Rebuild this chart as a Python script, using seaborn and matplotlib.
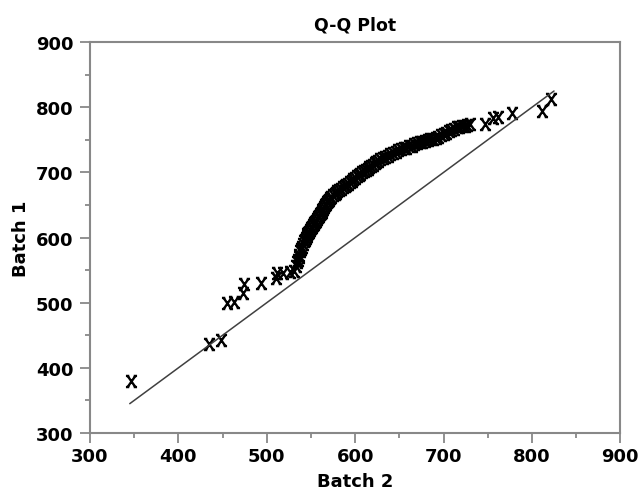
import matplotlib
matplotlib.use("Agg")
import matplotlib.pyplot as plt
from matplotlib.path import Path
from matplotlib.ticker import MultipleLocator
import numpy as np
import pandas as pd
import seaborn as sns

# quantiles (batch 2 on x, batch 1 on y)
batch2_q = [346, 435, 448, 455, 463, 473, 474, 494, 510, 512, 518, 526, 531,
            533, 534, 535, 536, 537, 538, 539, 540, 541, 542, 543, 544, 545,
            546, 547, 548, 549, 550, 551, 552, 553, 554, 555, 556, 557, 558,
            559, 560, 561, 562, 563, 564, 565, 566, 567, 568, 569, 570, 572,
            573, 575, 577, 578, 580, 582, 584, 586, 588, 590, 592, 594, 596,
            598, 600, 602, 604, 606, 608, 610, 612, 614, 616, 618, 620, 622,
            624, 626, 628, 631, 634, 637, 640, 643, 646, 649, 652, 655, 658,
            661, 664, 667, 670, 673, 676, 679, 682, 685, 688, 691, 694, 697,
            700, 703, 706, 709, 712, 715, 718, 721, 724, 727, 730,
            747, 756, 762, 777, 811, 822]
batch1_q = [380, 436, 443, 499, 501, 515, 529, 530, 538, 545, 546, 547, 549,
            556, 562, 566, 570, 574, 579, 583, 586, 590, 594, 597, 600, 603,
            605, 607, 609, 612, 614, 616, 619, 621, 622, 624, 626, 629, 631,
            633, 636, 638, 640, 642, 644, 647, 650, 652, 654, 656, 658, 661,
            663, 665, 667, 669, 671, 673, 675, 677, 679, 681, 683, 685, 687,
            690, 692, 694, 696, 698, 700, 702, 704, 706, 708, 710, 712, 714,
            716, 718, 720, 722, 724, 726, 728, 730, 732, 734, 736, 737, 738,
            740, 741, 743, 745, 746, 747, 749, 750, 751, 752, 753, 755, 757,
            759, 761, 763, 765, 767, 769, 770, 771, 772, 773, 774,
            775, 783, 785, 791, 795, 812]

# reference line y = x
ref_x = [345, 825]

df = pd.DataFrame({"Batch 2": batch2_q, "Batch 1": batch1_q})
ref = pd.DataFrame({"x": ref_x, "y": ref_x})

# letter-like X marker: two strokes plus little serifs, taller than wide
verts = [(-0.7, -1), (0.7, 1), (-0.7, 1), (0.7, -1),
         (-1.0, 1), (-0.4, 1), (0.4, 1), (1.0, 1),
         (-1.0, -1), (-0.4, -1), (0.4, -1), (1.0, -1)]
codes = [Path.MOVETO, Path.LINETO] * 6
x_marker = Path(verts, codes)

sns.set_style("ticks")
plt.rcParams["font.family"] = ["DejaVu Sans"]
plt.rcParams["text.color"] = "black"
plt.rcParams["axes.labelcolor"] = "black"
plt.rcParams["xtick.labelcolor"] = "black"
plt.rcParams["ytick.labelcolor"] = "black"

fig = plt.figure(figsize=(6.4, 5.02), dpi=100)
ax = fig.add_axes([0.1406, 0.1355, 0.8286, 0.7785])

sns.lineplot(data=ref, x="x", y="y", color="#404040", linewidth=1.1, ax=ax)
sns.scatterplot(data=df, x="Batch 2", y="Batch 1", marker=x_marker, s=64,
                color="black", edgecolor="black", linewidth=1.7, ax=ax)

ax.set_xlim(300, 900)
ax.set_ylim(300, 900)
ax.xaxis.set_major_locator(MultipleLocator(100))
ax.xaxis.set_minor_locator(MultipleLocator(50))
ax.yaxis.set_major_locator(MultipleLocator(100))
ax.yaxis.set_minor_locator(MultipleLocator(50))

for s in ax.spines.values():
    s.set_color("#888888")
    s.set_linewidth(1.5)

ax.tick_params(which="major", length=7, width=1.3, color="#888888",
               labelsize=13, pad=3)
ax.tick_params(which="minor", length=3.6, width=1.3, color="#888888")
ax.tick_params(axis="y", which="major", pad=5)
for lab in ax.get_xticklabels() + ax.get_yticklabels():
    lab.set_fontweight("bold")

ax.set_xlabel("Batch 2", fontsize=13, fontweight="bold", labelpad=5)
ax.set_ylabel("Batch 1", fontsize=13, fontweight="bold", labelpad=4)
ax.set_title("Q-Q Plot", fontsize=12.5, fontweight="bold", pad=9)

fig.savefig("out.png", dpi=100)
